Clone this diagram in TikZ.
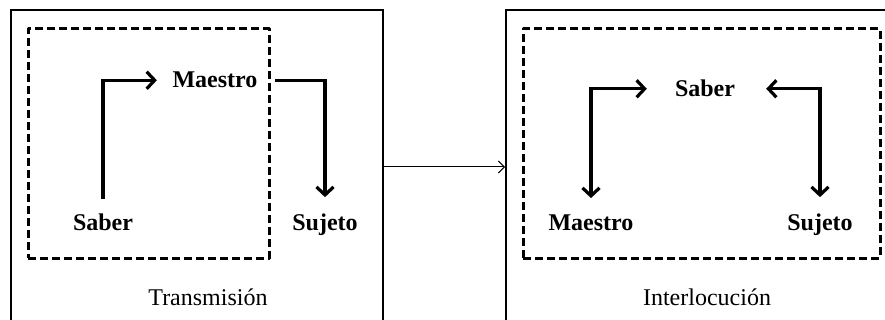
\documentclass[tikz,border=0pt]{standalone}
\usepackage{fontspec}
\setmainfont{Liberation Serif}
\usetikzlibrary{arrows.meta}
\begin{document}
\begin{tikzpicture}[x=1pt,y=-1pt,
  lbl/.style={font=\fontsize{24}{28}\selectfont\bfseries, inner sep=0pt, anchor=base},
  captxt/.style={font=\fontsize{24}{28}\selectfont, inner sep=0pt, anchor=base},
  outerbox/.style={draw, line width=2pt, inner sep=0pt},
  dashbox/.style={draw, line width=3pt, dash pattern=on 8pt off 4pt, inner sep=0pt, line join=round},
  arr/.style={line width=3.2pt, -{Straight Barb[length=8pt,width=17pt]}},
  dbl/.style={line width=3.2pt, {Straight Barb[length=8pt,width=17pt]}-{Straight Barb[length=8pt,width=17pt]}},
  conn/.style={line width=1pt, -{Straight Barb[length=6pt,width=12pt]}}
]
\useasboundingbox (0,0) rectangle (885,320);
\begin{scope}
  \clip (0,0) rectangle (885,320);
  \node[outerbox, minimum width=372pt, minimum height=314pt] (boxL) at (197,167) {};
  \node[outerbox, minimum width=400pt, minimum height=314pt] (boxR) at (706,167) {};
\end{scope}
\node[dashbox, minimum width=241pt, minimum height=229pt] (dashL) at (148.5,143.5) {};
\node[dashbox, minimum width=357pt, minimum height=229pt] (dashR) at (701.5,143.5) {};

\node[lbl] (maestroL) at (215,88) {Maestro};
\node[lbl] (saberL) at (103,231) {Saber};
\node[lbl] (sujetoL) at (325,231) {Sujeto};
\node[captxt] (capL) at (208,305) {Transmisión};

\node[lbl] (saberR) at (705,97) {Saber};
\node[lbl] (maestroR) at (591,231) {Maestro};
\node[lbl] (sujetoR) at (820,231) {Sujeto};
\node[captxt] (capR) at (707,305) {Interlocución};

\draw[arr, shorten <=15pt, shorten >=15.5pt] (saberL.north) |- (maestroL.west);
\draw[arr, shorten <=17.5pt, shorten >=17pt] (maestroL.east) -| (sujetoL.north);
\draw[dbl, shorten <=17pt, shorten >=28pt] (maestroR.north) |- (saberR.west);
\draw[dbl, shorten <=17pt, shorten >=31pt] (sujetoR.north) |- (saberR.east);

\draw[conn] (boxL.east) -- (boxR.west);
\end{tikzpicture}
\end{document}
